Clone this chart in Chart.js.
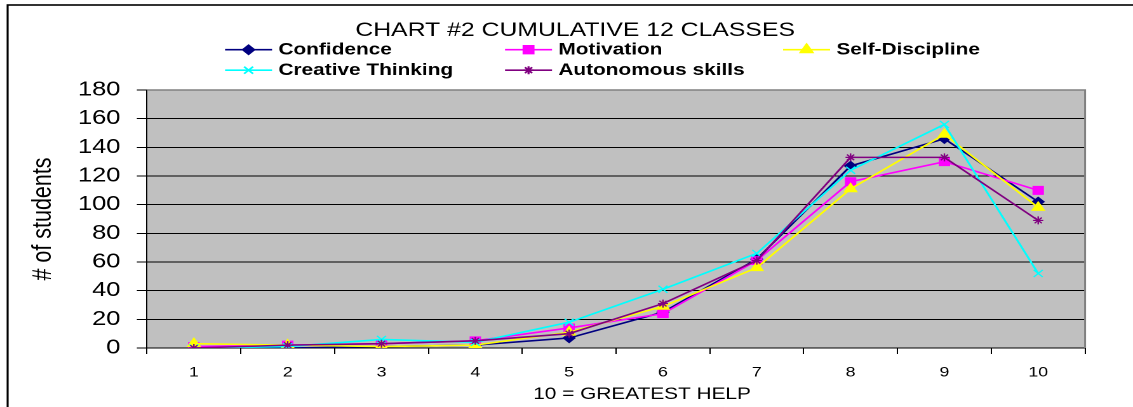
<!DOCTYPE html>
<html>
<head>
<meta charset="utf-8">
<title>CHART #2 CUMULATIVE 12 CLASSES</title>
<script src="https://cdn.jsdelivr.net/npm/chart.js@4.4.7/dist/chart.umd.min.js"></script>
<style>
  html, body { margin: 0; padding: 0; background: #ffffff; overflow: hidden; }
  #helpChart { display: block; }
</style>
</head>
<body>
<!-- the source picture is stretched sideways, so draw narrow and let css widen it -->
<canvas id="helpChart" width="892" height="407" style="width: 1133px; height: 407px;"></canvas>
<script>
const categories = ["1", "2", "3", "4", "5", "6", "7", "8", "9", "10"];
const yTickValues = [0, 20, 40, 60, 80, 100, 120, 140, 160, 180];

const confidence = [0, 0, 1, 2, 7, 25, 62, 127, 146, 102];
const motivation = [1, 2, 3, 5, 14, 24, 61, 116, 130, 110];
const selfDiscipline = [3, 2, 1, 2, 11, 29, 56, 111, 149, 98];
const creativeThinking = [0, 1, 6, 4, 18, 41, 66, 124, 156, 52];
const autonomousSkills = [0, 2, 3, 5, 10, 31, 61, 133, 133, 89];

const chartTitle = "CHART #2 CUMULATIVE 12 CLASSES";
const xTitle = "10 = GREATEST HELP";
const yTitle = "# of students";

const fontFamily = "'Liberation Sans', Arial, sans-serif";

function series(label, data, color, pointStyle, radius, order) {
  return {
    label: label,
    data: data,
    borderColor: color,
    backgroundColor: color,
    borderWidth: 1.6,
    tension: 0,
    pointStyle: pointStyle,
    pointRadius: radius,
    pointHoverRadius: radius,
    pointBackgroundColor: color,
    pointBorderColor: color,
    pointBorderWidth: 1.2,
    order: order,
  };
}

const datasets = [
  series("Confidence", confidence, "#000080", "rectRot", 4.5, 4),
  series("Motivation", motivation, "#ff00ff", "rect", 5.5, 3),
  series("Self-Discipline", selfDiscipline, "#ffff00", "triangle", 5.5, 2),
  series("Creative Thinking", creativeThinking, "#00ffff", "crossRot", 5, 1),
  series("Autonomous skills", autonomousSkills, "#800080", "star", 4, 0),
];

function drawMarker(ctx, style, radius, x, y) {
  if (window.Chart && Chart.helpers && Chart.helpers.drawPoint) {
    Chart.helpers.drawPoint(ctx, { pointStyle: style, radius: radius, rotation: 0, borderWidth: 1.2 }, x, y);
    return;
  }
  ctx.beginPath();
  ctx.arc(x, y, radius, 0, Math.PI * 2);
  ctx.fill();
}

const excelFrame = {
  id: "excelFrame",
  beforeDraw(chart) {
    const { ctx, chartArea } = chart;
    ctx.save();
    ctx.fillStyle = "#c0c0c0";
    ctx.fillRect(chartArea.left, chartArea.top, chartArea.right - chartArea.left, chartArea.bottom - chartArea.top);
    // outer chart border, right and bottom edges are cut off in the source
    ctx.strokeStyle = "#000000";
    ctx.lineWidth = 1.6;
    ctx.strokeRect(6, 5, chart.width + 20, chart.height + 20);
    ctx.restore();
  },
  beforeDatasetsDraw(chart) {
    const { ctx, chartArea } = chart;
    ctx.save();
    ctx.strokeStyle = "#808080";
    ctx.lineWidth = 1.5;
    ctx.beginPath();
    ctx.moveTo(chartArea.left, chartArea.top);
    ctx.lineTo(chartArea.right, chartArea.top);
    ctx.lineTo(chartArea.right, chartArea.bottom);
    ctx.stroke();
    ctx.restore();
  },
  afterDraw(chart) {
    const ctx = chart.ctx;
    ctx.save();
    ctx.fillStyle = "#000000";
    ctx.textBaseline = "middle";

    ctx.textAlign = "center";
    ctx.font = `19.5px ${fontFamily}`;
    ctx.fillText(chartTitle, 452.8, 30.5);

    ctx.font = `16.4px ${fontFamily}`;
    ctx.fillText(xTitle, 505.5, 394.5);

    // legend laid out in three fixed columns like the excel one
    const columns = [177.2, 397.6, 616.5];
    const rows = [49.7, 70.2];
    ctx.textAlign = "left";
    ctx.font = `bold 16.4px ${fontFamily}`;
    chart.data.datasets.forEach((dataset, index) => {
      const x = columns[index % 3];
      const y = rows[Math.floor(index / 3)];
      ctx.strokeStyle = dataset.borderColor;
      ctx.fillStyle = dataset.borderColor;
      ctx.lineWidth = 1.6;
      ctx.beginPath();
      ctx.moveTo(x, y);
      ctx.lineTo(x + 37, y);
      ctx.stroke();
      drawMarker(ctx, dataset.pointStyle, dataset.pointRadius, x + 18.5, y);
      ctx.fillStyle = "#000000";
      ctx.fillText(dataset.label, x + 42, y + 0.5);
    });
    ctx.restore();
  },
};

const helpCanvas = document.getElementById("helpChart");
new Chart(helpCanvas, {
  type: "line",
  data: {
    labels: categories,
    datasets: datasets,
  },
  options: {
    responsive: false,
    devicePixelRatio: 2,
    animation: false,
    layout: {
      padding: { top: 90, left: 0, right: 37.7, bottom: 0 },
    },
    plugins: {
      legend: { display: false },
      title: { display: false },
      tooltip: { enabled: false },
    },
    scales: {
      x: {
        offset: true,
        afterFit(scale) {
          scale.height = 59;
        },
        grid: {
          offset: true,
          drawOnChartArea: false,
          drawTicks: true,
          tickLength: 6,
          color: "#000000",
          lineWidth: 1,
        },
        border: { display: true, color: "#000000", width: 1 },
        ticks: {
          color: "#000000",
          padding: 10,
          maxRotation: 0,
          font: { family: fontFamily, size: 14 },
        },
      },
      y: {
        min: 0,
        max: 180,
        afterFit(scale) {
          scale.width = 115.7;
        },
        afterBuildTicks(scale) {
          scale.ticks = yTickValues.map((value) => ({ value: value }));
        },
        grid: {
          color: "#000000",
          lineWidth: 1,
          tickLength: 8,
        },
        border: { display: true, color: "#000000", width: 1 },
        ticks: {
          color: "#000000",
          padding: 13,
          font: { family: fontFamily, size: 20 },
        },
        title: {
          display: true,
          text: yTitle,
          color: "#000000",
          padding: { top: 21, bottom: 0 },
          font: { family: fontFamily, size: 21.5 },
        },
      },
    },
  },
  plugins: [excelFrame],
});
// chart.js writes its own inline size; keep the stretched display size
helpCanvas.style.width = "1133px";
helpCanvas.style.height = "407px";
</script>
</body>
</html>
